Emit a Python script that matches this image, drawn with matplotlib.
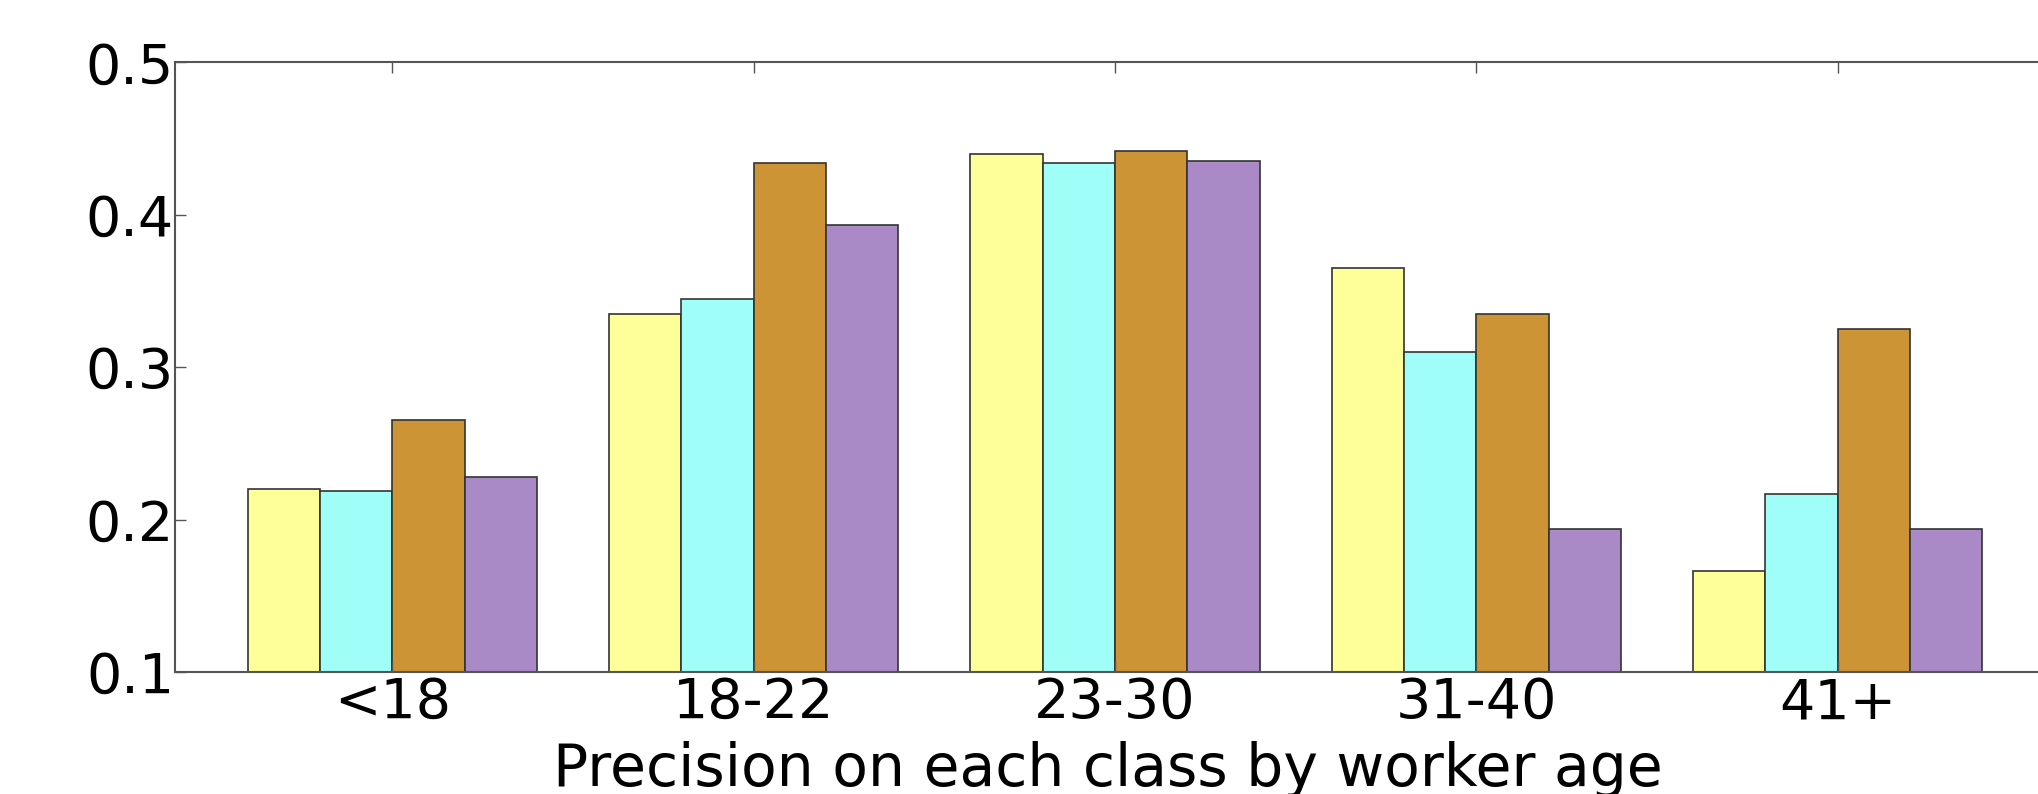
import matplotlib
matplotlib.use("Agg")
import matplotlib.pyplot as plt
import numpy as np

# Data
AGE_GROUPS = ["<18", "18-22", "23-30", "31-40", "41+"]

class_1 = [0.220, 0.335, 0.440, 0.365, 0.166]
class_2 = [0.219, 0.345, 0.434, 0.310, 0.217]
class_3 = [0.265, 0.434, 0.442, 0.335, 0.325]
class_4 = [0.228, 0.393, 0.435, 0.194, 0.194]

COLORS = ["#FFFF99", "#9FFFF8", "#CC9434", "#A98AC6"]
BAR_W = 0.2

fig = plt.figure(figsize=(20.38, 7.94), dpi=100)
ax = fig.add_axes([0.0861, 0.1537, 0.922, 0.7678])

x = np.arange(len(AGE_GROUPS))
for j, vals in enumerate([class_1, class_2, class_3, class_4]):
    ax.bar(x + (j - 1.5) * BAR_W, vals, BAR_W, color=COLORS[j],
           edgecolor="#333333", linewidth=1.2)

ax.set_xlim(-0.6, 4.6)
ax.set_ylim(0.1, 0.5)
ax.set_yticks([0.1, 0.2, 0.3, 0.4, 0.5])
ax.set_xticks(x)
ax.set_xticklabels(AGE_GROUPS)

ax.tick_params(direction="in", length=8, width=1, color="#555555",
               top=True, right=True, labelsize=40)
ax.tick_params(axis="x", pad=3)
ax.tick_params(axis="y", pad=1)
for sp in ax.spines.values():
    sp.set_color("#555555")
    sp.set_linewidth(1.5)

ax.set_xlabel("Precision on each class by worker age", fontsize=42)
ax.xaxis.set_label_coords(0.496, -0.114)

fig.savefig("out.png", dpi=100)
